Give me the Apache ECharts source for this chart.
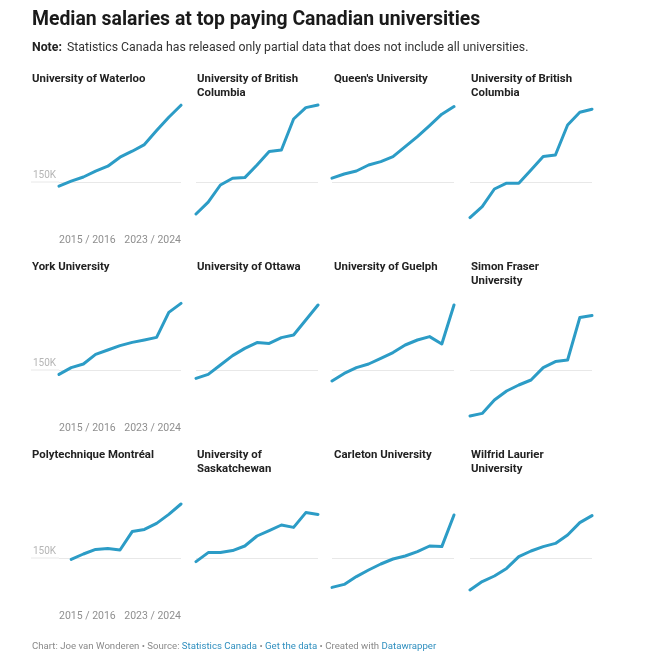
<!DOCTYPE html>
<html>
<head>
<meta charset="utf-8">
<script src="https://cdn.jsdelivr.net/npm/echarts@6.0.0/dist/echarts.min.js"></script>
<style>
  html, body { margin: 0; padding: 0; background: #fff; }
  #chart { width: 660px; height: 662px; }
</style>
</head>
<body>
<div id="chart"></div>
<script>
// panel names, in reading order (4 per row)
var universities = [
  'University of Waterloo', 'University of British Columbia', "Queen's University", 'University of British Columbia',
  'York University', 'University of Ottawa', 'University of Guelph', 'Simon Fraser University',
  'Polytechnique Montréal', 'University of Saskatchewan', 'Carleton University', 'Wilfrid Laurier University'
];

// only the first and last period are labelled on the axis
var periods = ['2015 / 2016', '', '', '', '', '', '', '', '', '', '2023 / 2024'];

// median salary, thousands of dollars
var waterloo      = [147.9, 150.4, 152.5, 155.4, 157.9, 162.4, 165.4, 168.7, 175.7, 182.4, 188.4];
var ubc           = [134.0, 139.9, 148.5, 151.9, 152.2, 158.5, 165.2, 166.0, 181.5, 187.2, 188.5];
var queens        = [151.9, 154.0, 155.5, 158.5, 160.2, 162.7, 167.7, 172.7, 178.2, 183.9, 187.7];
var ubcSecond     = [132.2, 137.7, 146.5, 149.4, 149.4, 156.0, 162.7, 163.5, 178.5, 184.9, 186.4];
var york          = [147.8, 151.2, 153.0, 157.8, 160.0, 162.2, 163.8, 165.0, 166.3, 178.8, 183.3];
var ottawa        = [145.8, 147.8, 152.5, 157.2, 160.8, 163.7, 163.3, 166.2, 167.5, 175.0, 182.5];
var guelph        = [144.5, 148.3, 151.2, 153.0, 155.8, 158.7, 162.5, 165.0, 166.7, 163.0, 182.5];
var simonFraser   = [127.0, 128.3, 135.0, 139.5, 142.5, 145.0, 151.2, 154.2, 155.0, 176.2, 177.2];
var polytechnique = [null, 149.3, 152.0, 154.3, 154.7, 154.0, 163.2, 164.3, 167.3, 171.8, 177.0];
var saskatchewan  = [148.2, 152.7, 152.7, 153.7, 156.0, 161.0, 163.7, 166.5, 165.3, 172.7, 171.8];
var carleton      = [135.3, 136.8, 140.7, 144.0, 147.0, 149.5, 151.0, 153.2, 156.0, 155.7, 171.5];
var laurier       = [134.0, 138.2, 141.0, 144.8, 150.7, 153.5, 155.7, 157.3, 161.5, 167.7, 171.2];

var panelValues = [waterloo, ubc, queens, ubcSecond, york, ottawa, guelph, simonFraser,
                   polytechnique, saskatchewan, carleton, laurier];

var FONT = 'Roboto, "Noto Sans", sans-serif';
var LINE = '#2c9cc6';

// layout of the small multiples
var colLeft = [59, 196, 332, 470];
var titleLeft = [32, 197, 334, 471];
var titleWidth = [145, 115, 115, 115];
var plotWidth = 122;
var plotHeight = 140;
var rowStep = 188;
var firstTop = 92;

var myChart = echarts.init(document.getElementById('chart'), null, { renderer: 'canvas' });

var grids = [], xAxes = [], yAxes = [], series = [];
var titles = [
  {
    text: 'Median salaries at top paying Canadian universities',
    left: 32, top: 11, padding: 0,
    textStyle: { fontFamily: FONT, fontSize: 19.4, fontWeight: 'bold', color: '#1a1a1a' }
  },
  {
    text: '{b|Note:} {n|Statistics Canada has released only partial data that does not include all universities.}',
    left: 32, top: 39, padding: 0,
    textStyle: {
      fontWeight: 'normal',
      rich: {
        b: { fontFamily: FONT, fontSize: 12.3, fontWeight: 'bold', color: '#222' },
        n: { fontFamily: FONT, fontSize: 12.3, fontWeight: 'normal', color: '#333' }
      }
    }
  },
  {
    text: '{g|Chart: Joe van Wonderen • Source: }{l|Statistics Canada}{g| • }{l|Get the data}{g| • Created with }{l|Datawrapper}',
    left: 32, top: 642, padding: 0,
    textStyle: {
      fontWeight: 'normal',
      rich: {
        g: { fontFamily: FONT, fontSize: 9.65, fontWeight: 'normal', color: '#8a8a8a' },
        l: { fontFamily: FONT, fontSize: 9.65, fontWeight: 'normal', color: '#2f8fbf' }
      }
    }
  }
];

panelValues.forEach(function (vals, i) {
  var row = Math.floor(i / 4);
  var col = i % 4;
  var top = firstTop + row * rowStep;
  var firstCol = col === 0;

  titles.push({
    text: universities[i],
    left: titleLeft[col],
    top: top - 20,
    padding: 0,
    textStyle: {
      fontFamily: FONT, fontSize: 11.4, fontWeight: 'bold', color: '#222',
      lineHeight: 14, width: titleWidth[col], overflow: 'break'
    }
  });

  grids.push({ left: colLeft[col], top: top, width: plotWidth, height: plotHeight });

  xAxes.push({
    type: 'category',
    gridIndex: i,
    data: periods,
    boundaryGap: false,
    axisLine: { show: false },
    axisTick: { show: false },
    splitLine: { show: false },
    axisLabel: {
      show: firstCol,
      interval: function (idx) { return idx === 0 || idx === periods.length - 1; },
      alignMinLabel: 'left',
      alignMaxLabel: 'right',
      margin: 3,
      fontFamily: FONT, fontSize: 10.5, color: '#8f8f8f'
    }
  });

  yAxes.push({
    type: 'value',
    gridIndex: i,
    min: 125,
    max: 195,
    interval: 25,
    axisLine: { show: false },
    axisTick: { show: false },
    splitLine: { show: false },
    axisLabel: {
      show: firstCol,
      align: 'left',
      verticalAlign: 'bottom',
      margin: 26,
      padding: [0, 0, 2, 0],
      fontFamily: FONT, fontSize: 10, color: '#b5b5b5',
      formatter: function (v) { return v === 150 ? '150K' : ''; }
    }
  });

  series.push({
    type: 'line',
    xAxisIndex: i,
    yAxisIndex: i,
    data: vals,
    symbol: 'none',
    lineStyle: { color: LINE, width: 3, cap: 'round', join: 'round' },
    itemStyle: { color: LINE },
    z: 3,
    markLine: {
      silent: true,
      symbol: ['none', 'none'],
      label: { show: false },
      lineStyle: { color: '#e8e8e8', width: 1, type: 'solid' },
      emphasis: { disabled: true },
      data: [{ yAxis: 150 }],
      z: 1
    }
  });
});

myChart.setOption({
  animation: false,
  backgroundColor: '#fff',
  title: titles,
  grid: grids,
  xAxis: xAxes,
  yAxis: yAxes,
  series: series
});

// in the first column the 150K gridline runs under the label too
var ext = [];
[0, 4, 8].forEach(function (i) {
  var p = myChart.convertToPixel({ xAxisIndex: i, yAxisIndex: i }, [0, 150]);
  ext.push({
    type: 'line',
    silent: true,
    z: 0,
    shape: { x1: 31, y1: p[1], x2: p[0], y2: p[1] },
    style: { stroke: '#e8e8e8', lineWidth: 1 }
  });
});
myChart.setOption({ graphic: ext });
</script>
</body>
</html>
